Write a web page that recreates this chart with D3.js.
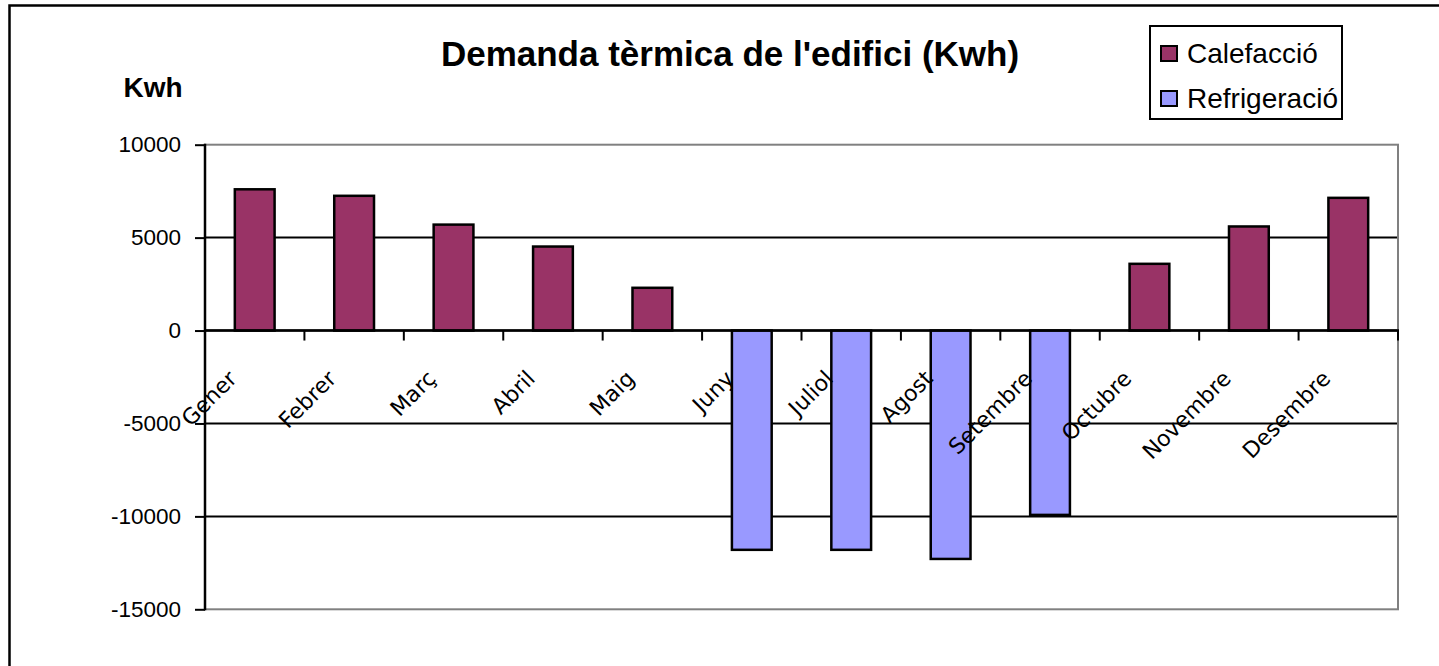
<!DOCTYPE html>
<html>
<head>
<meta charset="utf-8">
<script src="https://cdnjs.cloudflare.com/ajax/libs/d3/7.8.5/d3.min.js"></script>
<style>
body{margin:0;background:#fff;overflow:hidden}
</style>
</head>
<body>
<div id="chartDiv"></div>
<script>
let months = ["Gener","Febrer","Març","Abril","Maig","Juny","Juliol","Agost","Setembre","Octubre","Novembre","Desembre"];
let calefaccio = [7600,7250,5700,4520,2300,0,0,0,0,3590,5600,7140];
let refrigeracio = [0,0,0,0,0,-11800,-11800,-12290,-9920,0,0,0];
let yTicks = [10000,5000,0,-5000,-10000,-15000];
let seriesNames = ["Calefacció","Refrigeració"];
let seriesColors = ["#993366","#9999ff"];

let width = 1439, height = 666;
let body = d3.select("#chartDiv").append("svg").attr("width",width).attr("height",height);

// outer frame (runs off the right and bottom)
body.append("rect").attr("x",9.5).attr("y",5.5).attr("width",1600).attr("height",800)
  .style("fill","none").style("stroke","#000").style("stroke-width",2.5);

let plotLeft = 205, plotRight = 1398, plotTop = 144.7, plotBottom = 609.3;

let scaleX = d3.scaleBand().domain(months).range([plotLeft,plotRight]).padding(0);
let scaleY = d3.scaleLinear().domain([-15000,10000]).range([plotBottom,plotTop]);

// gridlines
body.selectAll("line.grid").data(yTicks.filter(d => d!=10000 && d!=-15000)).enter().append("line")
  .attr("class","grid")
  .attr("x1",plotLeft).attr("x2",plotRight)
  .attr("y1",d => scaleY(d)).attr("y2",d => scaleY(d))
  .style("stroke","#000").style("stroke-width",2);

// plot area border
body.append("rect").attr("x",plotLeft).attr("y",plotTop).attr("width",plotRight-plotLeft).attr("height",plotBottom-plotTop)
  .style("fill","none").style("stroke","#808080").style("stroke-width",2);

// bars
let allSeries = [calefaccio, refrigeracio];
allSeries.forEach((vals,i) => {
  body.append("g").selectAll("rect").data(vals).enter().append("rect")
    .attr("x",(d,j) => scaleX(months[j]) + scaleX.bandwidth()*0.3)
    .attr("width",scaleX.bandwidth()*0.4)
    .attr("y",d => scaleY(Math.max(0,d)))
    .attr("height",d => Math.abs(scaleY(d)-scaleY(0)))
    .style("display",d => d==0 ? "none" : null)
    .style("fill",seriesColors[i]).style("stroke","#000").style("stroke-width",2.5);
});

// y axis
let axisYgen = d3.axisLeft(scaleY).tickValues(yTicks).tickSize(10).tickPadding(14).tickFormat(d => String(d));
let yAxis = body.append("g").attr("id","y-axis").attr("transform","translate("+plotLeft+",0)").call(axisYgen);
yAxis.select(".domain").remove();
yAxis.selectAll("line").style("stroke","#000").style("stroke-width",2);
yAxis.selectAll("text").style("font-family","'Liberation Sans', Arial, sans-serif").style("font-size","22.5px").style("fill","#000");
body.append("line").attr("x1",plotLeft).attr("x2",plotLeft).attr("y1",plotTop-1).attr("y2",plotBottom+1).style("stroke","#000").style("stroke-width",2.5);

// category axis on zero
let zeroY = scaleY(0);
body.append("line").attr("x1",plotLeft).attr("x2",plotRight+1).attr("y1",zeroY).attr("y2",zeroY).style("stroke","#000").style("stroke-width",2.5);
let bounds = months.map(m => scaleX(m)).concat([plotRight]);
body.selectAll("line.ctick").data(bounds.slice(1)).enter().append("line")
  .attr("class","ctick")
  .attr("x1",d => d).attr("x2",d => d).attr("y1",zeroY).attr("y2",zeroY+10)
  .style("stroke","#000").style("stroke-width",2);

body.selectAll("text.cat").data(months).enter().append("text")
  .attr("class","cat")
  .attr("transform",d => "translate("+(scaleX(d)+scaleX.bandwidth()/2-22)+","+(zeroY+44)+") rotate(-45)")
  .attr("text-anchor","end").attr("dy","0.35em")
  .style("font-family","'DejaVu Sans', Verdana, sans-serif").style("font-size","22px")
  .text(d => d);

// title + unit
body.append("text").text("Demanda tèrmica de l'edifici (Kwh)").attr("x",730).attr("y",66)
  .attr("text-anchor","middle").style("font-family","'Liberation Sans', Arial, sans-serif")
  .style("font-weight","bold").style("font-size","35px");
body.append("text").text("Kwh").attr("x",153).attr("y",97)
  .attr("text-anchor","middle").style("font-family","'Liberation Sans', Arial, sans-serif")
  .style("font-weight","bold").style("font-size","28px");

//legend
let legend = body.append("g").attr("id","legend").attr("transform","translate(1150,26)");
legend.append("rect").attr("x",0).attr("y",0).attr("width",192).attr("height",93)
  .style("fill","#fff").style("stroke","#000").style("stroke-width",2);
seriesNames.forEach((n,i) => {
  legend.append("rect").attr("x",11).attr("y",20+i*45).attr("width",16).attr("height",15)
    .style("fill",seriesColors[i]).style("stroke","#000").style("stroke-width",2);
  legend.append("text").text(n).attr("x",37).attr("y",37+i*45)
    .style("font-family","'Liberation Sans', Arial, sans-serif").style("font-size","28px");
});
</script>
</body>
</html>
